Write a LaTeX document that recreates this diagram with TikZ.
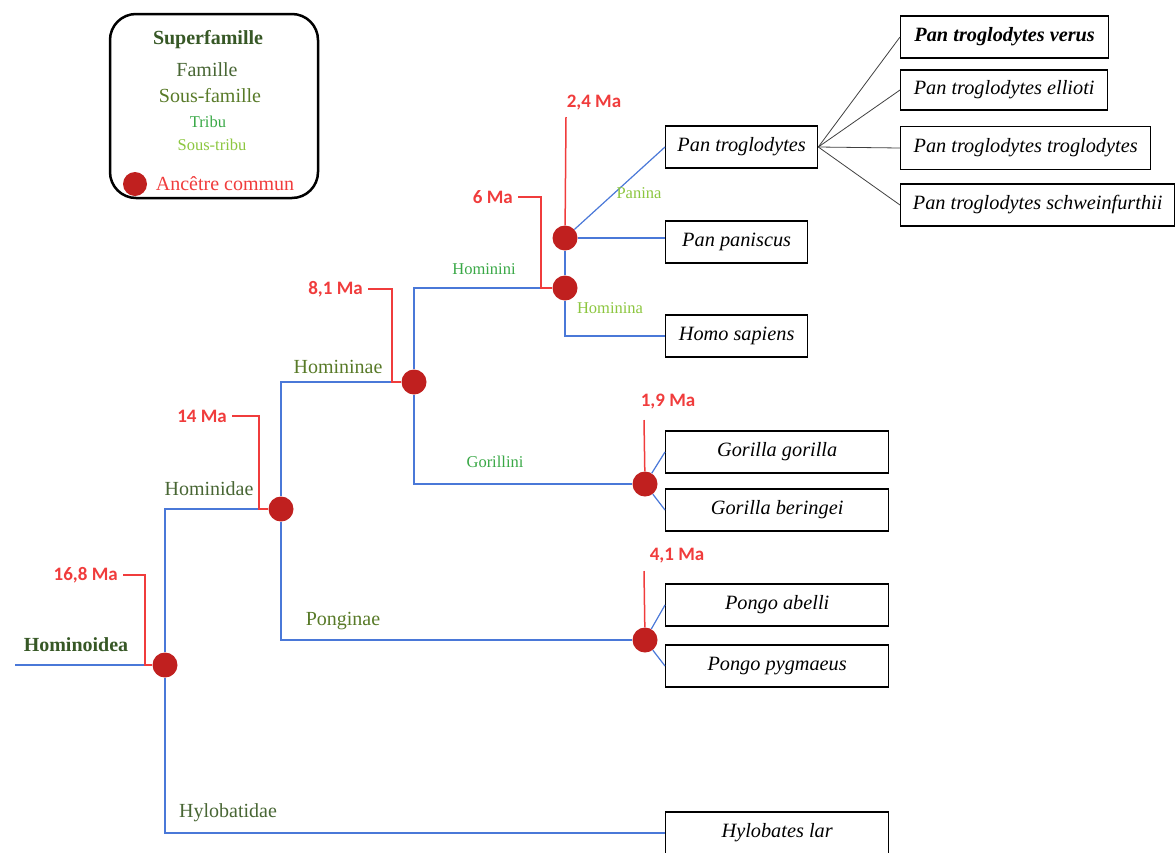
\documentclass[tikz,border=0pt]{standalone}
\usepackage{fontspec}
\setmainfont{Liberation Serif}
\newfontfamily\mafont{Carlito}
\definecolor{superfam}{RGB}{55,88,38}
\definecolor{famille}{RGB}{72,102,52}
\definecolor{sousfam}{RGB}{88,122,40}
\definecolor{tribu}{RGB}{57,168,70}
\definecolor{soustribu}{RGB}{140,198,63}
\definecolor{agered}{RGB}{240,60,60}
\definecolor{dotred}{RGB}{192,32,31}
\definecolor{branchblue}{RGB}{74,120,216}
\begin{document}
\begin{tikzpicture}[x=1pt, y=-1pt,
    anc/.style={circle, fill=dotred, inner sep=0pt, minimum size=25pt},
    sp/.style={draw, line width=1.3pt, anchor=west, inner sep=0pt, minimum height=42pt,
      font=\fontsize{20.3}{23}\selectfont\itshape},
    branch/.style={draw=branchblue, line width=1.2pt},
    sub/.style={draw=black!75, line width=0.8pt},
    age/.style={draw=agered, line width=1.5pt},
    ma/.style={text=agered, inner sep=1pt, font=\mafont\bfseries\fontsize{19}{21}\selectfont},
    big/.style={font=\fontsize{20}{23}\selectfont},
    small/.style={font=\fontsize{16.5}{19}\selectfont}]
    \useasboundingbox (0,0) rectangle (1175,852);
    \clip (0,0) rectangle (1175,852);

    % Legend
    \draw[line width=2.5pt, rounded corners=26pt] (110,14) rectangle (318,198);
    \node[text=superfam, font=\fontsize{20}{23}\selectfont\bfseries] (lsuper) at (208,40) {Superfamille};
    \node[big, text=famille] (lfam) at (207,70) {Famille};
    \node[big, text=sousfam] (lsousfam) at (210,96) {Sous-famille};
    \node[small, text=tribu] (ltribu) at (208,122) {Tribu};
    \node[small, text=soustribu] (lsoustribu) at (212,145) {Sous-tribu};
    \node[anc, minimum size=24pt] (ldot) at (135,184) {};
    \node[big, text=agered] (lanc) at (225,184) {Ancêtre commun};

    % Common ancestors
    \node[anc] (hominoidea) at (165,665) {};
    \node[anc] (hominidae) at (281,509) {};
    \node[anc] (homininae) at (414,382) {};
    \node[anc] (hominini) at (565,288) {};
    \node[anc] (panina) at (565,238) {};
    \node[anc] (gorilla) at (645,484) {};
    \node[anc] (pongo) at (645,640) {};

    % Species
    \node[sp, minimum width=152pt] (pantro) at (665,147) {Pan troglodytes};
    \node[sp, minimum width=142pt] (panpan) at (665,242) {Pan paniscus};
    \node[sp, minimum width=142pt] (homo) at (665,336) {Homo sapiens};
    \node[sp, minimum width=223pt] (gorgor) at (665,452) {Gorilla gorilla};
    \node[sp, minimum width=223pt] (gorber) at (665,510) {Gorilla beringei};
    \node[sp, minimum width=223pt] (pongab) at (665,605) {Pongo abelli};
    \node[sp, minimum width=223pt] (pongpy) at (665,666) {Pongo pygmaeus};
    \node[sp, minimum width=223pt] (hylo) at (665,833) {Hylobates lar};

    % Subspecies of Pan troglodytes
    \node[sp, minimum width=208pt, font=\fontsize{20.3}{23}\selectfont\bfseries\itshape] (verus) at (900,37) {Pan troglodytes verus};
    \node[sp, minimum width=207pt, minimum height=40pt] (ellioti) at (900,90) {Pan troglodytes ellioti};
    \node[sp, minimum width=250pt, minimum height=43pt] (trog) at (900,148) {Pan troglodytes troglodytes};
    \node[sp, minimum width=274pt] (schw) at (900,205) {Pan troglodytes schweinfurthii};
    \foreach \s in {verus, ellioti, trog, schw}
      \draw[sub] (pantro.east) -- (\s.west);

    % Branches
    \coordinate (root) at (15,665);
    \draw[branch] (root) -- (hominoidea);
    \draw[branch] (hominoidea) |- (hominidae);
    \draw[branch] (hominoidea) |- (hylo.west);
    \draw[branch] (hominidae) |- (homininae);
    \draw[branch] (hominidae) |- (pongo);
    \draw[branch] (homininae) |- (hominini);
    \draw[branch] (homininae) |- (gorilla);
    \draw[branch] (hominini) -- (panina);
    \draw[branch] (hominini) |- (homo.west);
    \draw[branch] (panina) -- (pantro.west);
    \draw[branch] (panina) -- (panina -| panpan.west);
    \draw[branch] (gorilla) -- (gorgor.west);
    \draw[branch] (gorilla) -- (gorber.west);
    \draw[branch] (pongo) -- (pongab.west);
    \draw[branch] (pongo) -- (pongpy.west);

    % Taxon names
    \node[text=superfam, font=\fontsize{20}{23}\selectfont\bfseries] (tsuper) at (76,645) {Hominoidea};
    \node[big, text=famille] (tfam1) at (209,489) {Hominidae};
    \node[big, text=famille] (tfam2) at (228,813) {Hylobatidae};
    \node[big, text=sousfam] (tsfam1) at (338,367) {Homininae};
    \node[big, text=sousfam] (tsfam2) at (343,621) {Ponginae};
    \node[small, text=tribu] (ttribu1) at (484,269) {Hominini};
    \node[small, text=tribu] (ttribu2) at (495,462) {Gorillini};
    \node[small, text=soustribu] (tstribu1) at (639,193) {Panina};
    \node[small, text=soustribu] (tstribu2) at (610,308) {Hominina};

    % Divergence dates
    \node[ma, anchor=east, inner xsep=5pt] (d168) at (123,575) {16,8 Ma};
    \draw[age] (d168.east) -| ([xshift=-20pt]hominoidea.center) -- (hominoidea);
    \node[ma, anchor=east, inner xsep=5pt] (d14) at (232,416) {14 Ma};
    \draw[age] (d14.east) -| ([xshift=-22pt]hominidae.center) -- (hominidae);
    \node[ma, anchor=east, inner xsep=5pt] (d81) at (368,289) {8,1 Ma};
    \draw[age] (d81.east) -| ([xshift=-22pt]homininae.center) -- (homininae);
    \node[ma, anchor=east, inner xsep=5pt] (d6) at (518,197) {6 Ma};
    \draw[age] (d6.east) -| ([xshift=-24pt]hominini.center) -- (hominini);
    \node[ma] (d24) at (594,103) {2,4 Ma};
    \coordinate (a24) at (566,117);
    \draw[age] (a24) -- (panina);
    \node[ma] (d19) at (668,402) {1,9 Ma};
    \coordinate (a19) at (644,420);
    \draw[age] (a19) -- (gorilla);
    \node[ma] (d41) at (677,556) {4,1 Ma};
    \coordinate (a41) at (644,571);
    \draw[age] (a41) -- (pongo);
\end{tikzpicture}
\end{document}
